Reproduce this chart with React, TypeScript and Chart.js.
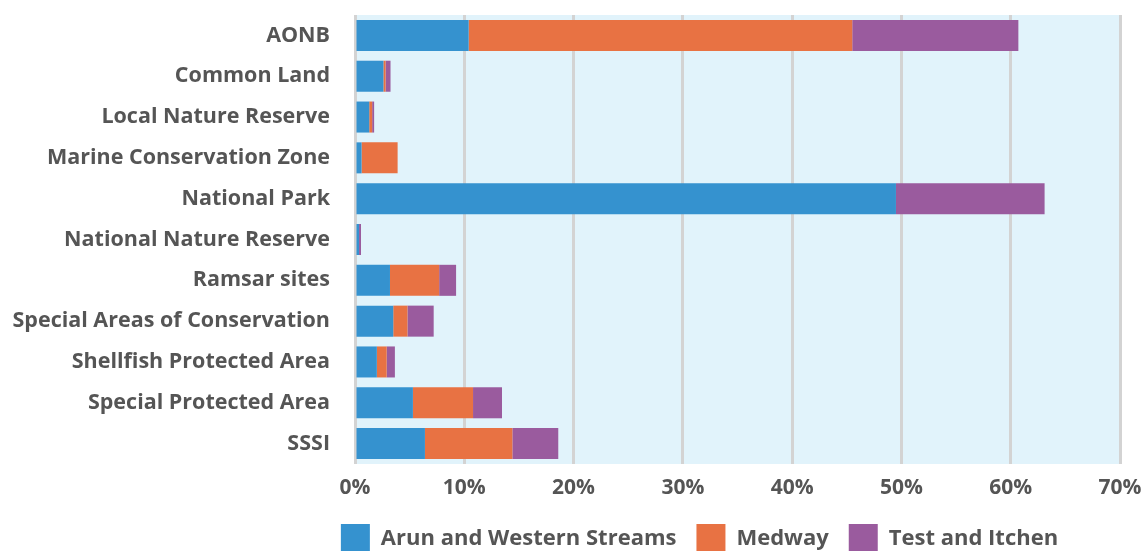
import { useEffect, useRef } from "react";
import { Chart, registerables } from "chart.js";

Chart.register(...registerables);

const categories = [
  "AONB",
  "Common Land",
  "Local Nature Reserve",
  "Marine Conservation Zone",
  "National Park",
  "National Nature Reserve",
  "Ramsar sites",
  "Special Areas of Conservation",
  "Shellfish Protected Area",
  "Special Protected Area",
  "SSSI",
];

const arunValues = [10.4, 2.6, 1.3, 0.6, 49.5, 0.37, 3.2, 3.5, 2.0, 5.3, 6.4];
const medwayValues = [35.1, 0.2, 0.27, 3.3, 0, 0, 4.5, 1.3, 0.9, 5.5, 8.0];
const testValues = [15.2, 0.45, 0.18, 0, 13.6, 0.18, 1.55, 2.4, 0.75, 2.65, 4.2];

const seriesNames = ["Arun and Western Streams", "Medway", "Test and Itchen"];
const xTicks = [0, 10, 20, 30, 40, 50, 60, 70];

const FONT = "'Open Sans', sans-serif";
const TEXT = "#555555";
const CANVAS_W = 1399;
const CANVAS_H = 563;

const plotBg = {
  id: "plotBg",
  beforeDraw(chart: any) {
    const { ctx, chartArea } = chart;
    ctx.save();
    ctx.fillStyle = "#e1f3fb";
    ctx.fillRect(chartArea.left, chartArea.top, chartArea.right - chartArea.left, chartArea.bottom - chartArea.top);
    ctx.restore();
  },
};

export default function App() {
  const ref = useRef<HTMLCanvasElement>(null);
  useEffect(() => {
    if (!ref.current) return;
    const chart = new Chart(ref.current, {
      type: "bar",
      data: {
        labels: categories,
        datasets: [
          { label: seriesNames[0], data: arunValues, backgroundColor: "#3592cf" },
          { label: seriesNames[1], data: medwayValues, backgroundColor: "#e87243" },
          { label: seriesNames[2], data: testValues, backgroundColor: "#9a5b9e" },
        ],
      },
      options: {
        indexAxis: "y",
        animation: false,
        responsive: false,
        maintainAspectRatio: false,
        layout: { padding: { top: 15, right: 0, left: 0, bottom: 0 } },
        datasets: {
          bar: { categoryPercentage: 0.8, barPercentage: 0.95, borderWidth: 0 },
        },
        scales: {
          x: {
            stacked: true,
            min: 0,
            max: 70,
            afterBuildTicks(axis: any) {
              axis.ticks = xTicks.map((v) => ({ value: v }));
            },
            afterFit(scale: any) {
              scale.height = 40;
              scale.paddingLeft = 0;
              scale.paddingRight = CANVAS_W - 1120;
            },
            ticks: {
              callback: (v: any) => v + "%",
              color: TEXT,
              font: { family: FONT, size: 21, weight: "bold" },
              padding: 11,
              maxRotation: 0,
            },
            grid: { color: "#d3d3d3", lineWidth: 3, drawTicks: false },
            border: { display: false },
          },
          y: {
            stacked: true,
            afterFit(scale: any) {
              scale.width = 355;
              scale.paddingTop = 0;
              scale.paddingBottom = 0;
            },
            ticks: {
              color: TEXT,
              font: { family: FONT, size: 21.5, weight: "bold" },
              padding: 25,
            },
            grid: { display: false, drawTicks: false },
            border: { display: false },
          },
        },
        plugins: {
          tooltip: { enabled: false },
          legend: {
            position: "bottom",
            labels: {
              boxWidth: 29,
              boxHeight: 29,
              color: TEXT,
              font: { family: FONT, size: 22, weight: "bold" },
              padding: 20,
            },
          },
        },
      },
      plugins: [plotBg],
    });
    return () => chart.destroy();
  }, []);
  return (
    <div style={{ position: "fixed", left: 0, top: 0, width: 1142, height: 551, overflow: "hidden", background: "#fff" }}>
      <canvas ref={ref} width={CANVAS_W} height={CANVAS_H} style={{ display: "block", width: CANVAS_W, height: CANVAS_H }} />
    </div>
  );
}
